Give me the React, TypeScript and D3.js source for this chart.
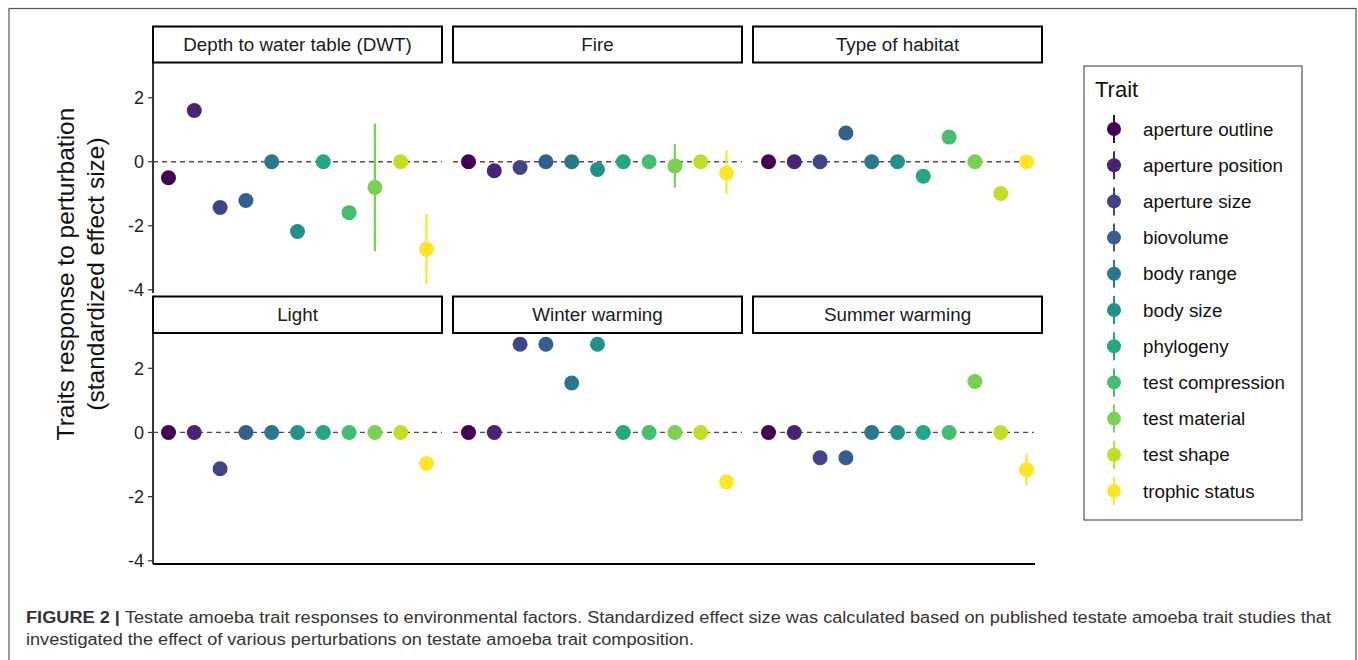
import * as d3 from 'd3';

const traits = [
  'aperture outline',
  'aperture position',
  'aperture size',
  'biovolume',
  'body range',
  'body size',
  'phylogeny',
  'test compression',
  'test material',
  'test shape',
  'trophic status',
];

const facetNames = [
  'Depth to water table (DWT)',
  'Fire',
  'Type of habitat',
  'Light',
  'Winter warming',
  'Summer warming',
];

// effect size per trait, in trait order
const dwtValues = [-0.5, 1.6, -1.43, -1.21, 0, -2.18, 0, -1.59, -0.8, 0, -2.73];
const fireValues = [0, -0.28, -0.18, 0, 0, -0.24, 0, 0, -0.13, 0, -0.35];
const habitatValues = [0, 0, 0, 0.9, 0, 0, -0.45, 0.77, 0, -0.99, 0];
const lightValues = [0, 0, -1.13, 0, 0, 0, 0, 0, 0, 0, -0.97];
const winterValues = [0, 0, 2.75, 2.75, 1.54, 2.75, 0, 0, 0, 0, -1.54];
const summerValues = [0, 0, -0.79, -0.79, 0, 0, 0, 0, 1.59, 0, -1.16];

// confidence intervals [facet, trait, low, high]
const errorBars: [string, string, number, number][] = [
  ['Depth to water table (DWT)', 'test material', -2.8, 1.19],
  ['Depth to water table (DWT)', 'trophic status', -3.83, -1.63],
  ['Fire', 'test material', -0.81, 0.56],
  ['Fire', 'trophic status', -1.02, 0.36],
  ['Summer warming', 'trophic status', -1.65, -0.66],
];

const yTicks = [2, 0, -2, -4];

const facetValues = [dwtValues, fireValues, habitatValues, lightValues, winterValues, summerValues];

const W = 1358;
const H = 660;
const font = '"Liberation Sans", Arial, Helvetica, sans-serif';
const colX = [153, 453, 753];
const panelW = 289;
const rows = [
  { stripTop: 26.5, top: 62.5, bottom: 293 },
  { stripTop: 296.5, top: 333, bottom: 564 },
];

const color = d3
  .scaleOrdinal<string, string>()
  .domain(traits)
  .range(traits.map((_, i) => d3.interpolateViridis(i / (traits.length - 1))));

function Panel({ idx }: { idx: number }) {
  const col = idx % 3;
  const row = rows[Math.floor(idx / 3)];
  const name = facetNames[idx];
  const x = d3
    .scalePoint<string>()
    .domain(traits)
    .range([colX[col], colX[col] + panelW])
    .padding(0.6);
  const y = d3.scaleLinear().domain([-4.1, 3.1]).range([row.bottom, row.top]);
  const vals = facetValues[idx];
  const bars = errorBars.filter((e) => e[0] === name);
  return (
    <g>
      <rect
        x={colX[col]}
        y={row.stripTop}
        width={panelW}
        height={row.top - row.stripTop}
        fill="#fff"
        stroke="#000"
        strokeWidth={2}
      />
      <text
        x={colX[col] + panelW / 2}
        y={(row.stripTop + row.top) / 2 + 6.5}
        textAnchor="middle"
        fontSize={18.8}
        fill="#1a1a1a"
      >
        {name}
      </text>
      <line
        x1={colX[col]}
        x2={idx % 3 === 2 ? colX[col] + 281 : colX[col] + panelW}
        y1={y(0)}
        y2={y(0)}
        stroke="#5e4646"
        strokeWidth={1.3}
        strokeDasharray="5,4"
      />
      {bars.map((b) => (
        <line
          key={b[1]}
          x1={x(b[1])}
          x2={x(b[1])}
          y1={y(b[2])}
          y2={y(b[3])}
          stroke={color(b[1])}
          strokeWidth={2.2}
        />
      ))}
      {traits.map((t, i) => (
        <circle key={t} cx={x(t)} cy={y(vals[i])} r={7.5} fill={color(t)} />
      ))}
    </g>
  );
}

function YAxis({ r }: { r: number }) {
  const row = rows[r];
  const y = d3.scaleLinear().domain([-4.1, 3.1]).range([row.bottom, row.top]);
  return (
    <g>
      <line x1={153} x2={153} y1={row.top} y2={row.bottom} stroke="#000" strokeWidth={1.6} />
      {yTicks.map((t) => (
        <g key={t} transform={`translate(153,${y(t)})`}>
          <line x1={-5} x2={0} stroke="#333" strokeWidth={1.2} />
          <text x={-9} dy="0.35em" textAnchor="end" fontSize={18} fill="#222">
            {t}
          </text>
        </g>
      ))}
    </g>
  );
}

export default function App() {
  const legendY = d3
    .scalePoint<string>()
    .domain(traits)
    .range([129, 491]);
  return (
    <svg
      width={W}
      height={H}
      style={{ position: 'absolute', left: 0, top: 0, fontFamily: font, background: '#fff' }}
    >
      <rect x={9} y={8.5} width={1347} height={700} fill="none" stroke="#555" strokeWidth={1.2} />

      <YAxis r={0} />
      <YAxis r={1} />
      <line x1={153} x2={1035} y1={564} y2={564} stroke="#000" strokeWidth={1.8} />
      {facetNames.map((_, i) => (
        <Panel key={i} idx={i} />
      ))}

      <g transform="translate(74,274) rotate(-90)" fontSize={24.5} fill="#111" textAnchor="middle">
        <text y={0}>Traits response to perturbation</text>
        <text y={30}>(standardized effect size)</text>
      </g>

      <rect x={1084} y={66} width={218} height={454} fill="#fff" stroke="#555" strokeWidth={1.2} />
      <text x={1095} y={97} fontSize={22} fill="#111">
        Trait
      </text>
      {traits.map((t) => (
        <g key={t} transform={`translate(1114,${legendY(t)})`}>
          <line y1={-14} y2={14} stroke={color(t)} strokeWidth={2} />
          <circle r={7} fill={color(t)} />
          <text x={29} dy="0.35em" fontSize={18.8} fill="#111">
            {t}
          </text>
        </g>
      ))}

      <text x={26} y={623} fontSize={16} fill="#333" textLength={1305} lengthAdjust="spacingAndGlyphs">
        <tspan fontWeight="bold">FIGURE 2 | </tspan>
        Testate amoeba trait responses to environmental factors. Standardized effect size was calculated based on
        published testate amoeba trait studies that
      </text>
      <text x={26} y={645} fontSize={16} fill="#333" textLength={668} lengthAdjust="spacingAndGlyphs">
        investigated the effect of various perturbations on testate amoeba trait composition.
      </text>
    </svg>
  );
}
